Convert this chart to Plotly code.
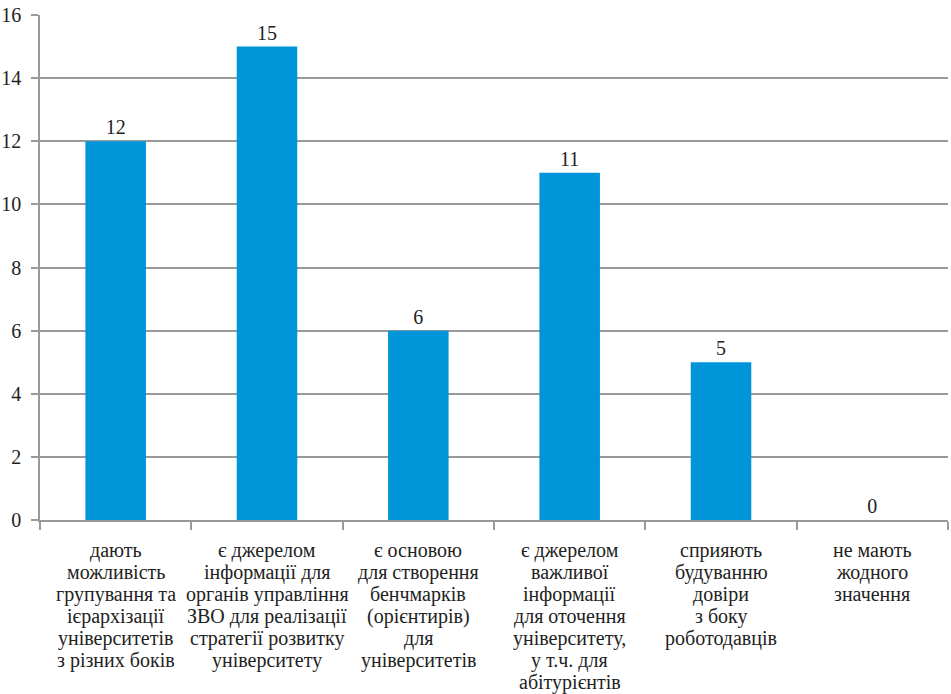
import plotly.graph_objects as go

categories = [
    "дають<br>можливість<br>групування та<br>ієрархізації<br>університетів<br>з різних боків",
    "є джерелом<br>інформації для<br>органів управління<br>ЗВО для реалізації<br>стратегії розвитку<br>університету",
    "є основою<br>для створення<br>бенчмарків<br>(орієнтирів)<br>для<br>університетів",
    "є джерелом<br>важливої<br>інформації<br>для оточення<br>університету,<br>у т.ч. для<br>абітурієнтів",
    "сприяють<br>будуванню<br>довіри<br>з боку<br>роботодавців",
    "не мають<br>жодного<br>значення",
]
values = [12, 15, 6, 11, 5, 0]
y_ticks = [0, 2, 4, 6, 8, 10, 12, 14, 16]

font_family = "Liberation Serif"
text_color = "#222222"
grid_color = "#9a9a9a"

fig = go.Figure(
    go.Bar(
        x=categories,
        y=values,
        marker=dict(color="#0095D9", line=dict(width=0)),
        width=0.4,
        text=[str(v) for v in values],
        textposition="outside",
        textfont=dict(family=font_family, size=20, color=text_color),
        cliponaxis=False,
    )
)

# Category labels: one annotation per line to reproduce the tight line spacing
annotations = []
for cat in categories:
    for i, line in enumerate(cat.split("<br>")):
        annotations.append(
            dict(
                x=cat,
                y=0,
                xref="x",
                yref="y",
                text=line,
                showarrow=False,
                xanchor="center",
                yanchor="middle",
                yshift=-(30 + i * 22.1),
                font=dict(family=font_family, size=20, color=text_color),
            )
        )

fig.update_layout(
    width=951,
    height=694,
    margin=dict(l=40, r=3, t=15, b=174),
    plot_bgcolor="white",
    paper_bgcolor="white",
    showlegend=False,
    font=dict(family=font_family, color=text_color),
    annotations=annotations,
)

fig.update_yaxes(
    range=[0, 16],
    tickvals=y_ticks,
    showgrid=True,
    gridcolor=grid_color,
    gridwidth=1.5,
    showline=True,
    linecolor=grid_color,
    linewidth=1.5,
    ticks="outside",
    ticklen=7,
    tickcolor=grid_color,
    tickwidth=1.5,
    ticklabelstandoff=6,
    tickfont=dict(family=font_family, size=20, color=text_color),
    zeroline=False,
    automargin=False,
)

fig.update_xaxes(
    showline=True,
    linecolor=grid_color,
    linewidth=1.5,
    ticks="outside",
    tickson="boundaries",
    ticklen=8,
    tickcolor=grid_color,
    tickwidth=1.5,
    showticklabels=False,
    automargin=False,
)

fig.write_html(
    "out.html",
    config={"displayModeBar": False},
    post_script="document.body.style.margin='0';document.body.style.padding='0';",
)
